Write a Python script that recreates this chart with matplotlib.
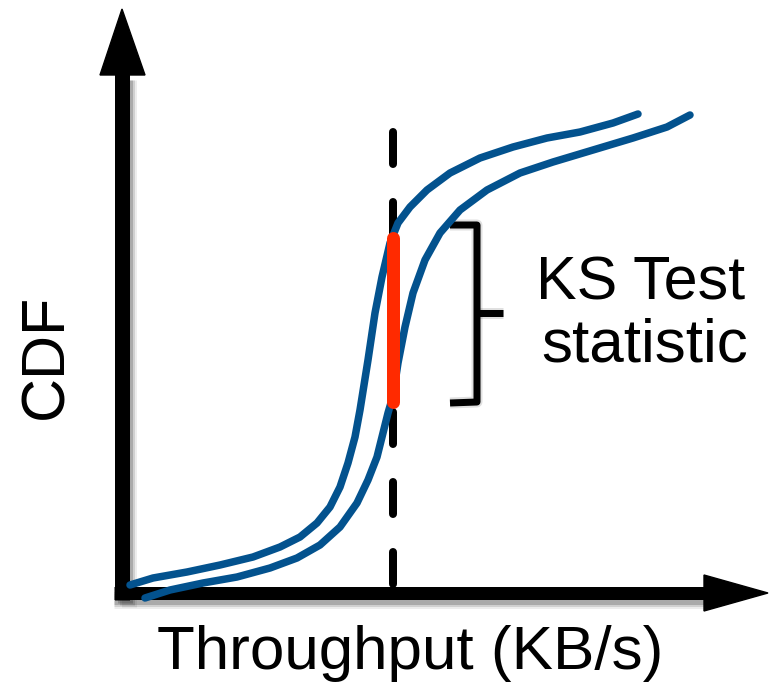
import matplotlib
matplotlib.use("Agg")
import matplotlib.pyplot as plt
from matplotlib.patches import Polygon

# ---- data (pixel-space schematic, y grows downward) ----
curve_a_x = [130, 153, 187, 220, 253, 280, 300, 317, 330, 340, 348, 355, 360, 364,
             368, 375, 382, 390, 398, 410, 427, 450, 480, 513, 547, 580, 613, 638]
curve_a_y = [585, 578, 572, 565, 557, 547, 537, 523, 507, 487, 463, 437, 410, 385,
             360, 313, 277, 243, 223, 207, 190, 173, 158, 147, 138, 132, 123, 114]

curve_b_x = [145, 170, 203, 237, 270, 297, 320, 340, 357, 368, 377, 383, 388, 393,
             398, 405, 413, 425, 440, 460, 487, 520, 553, 593, 633, 667, 690]
curve_b_y = [598, 590, 583, 577, 568, 558, 545, 527, 503, 480, 457, 433, 413, 396,
             363, 327, 293, 260, 233, 210, 190, 173, 162, 150, 138, 127, 115]

ks_x = 393
ks_top, ks_bottom = 232, 408
dash_top, dash_bottom = 132, 588

x_label = "Throughput (KB/s)"
y_label = "CDF"
annot_lines = ["KS Test", "statistic"]

# ---- figure ----
W, H = 769, 683
fig = plt.figure(figsize=(W / 100, H / 100), dpi=100)
ax = fig.add_axes([0, 0, 1, 1])
ax.set_xlim(0, W)
ax.set_ylim(H, 0)
ax.axis("off")
PX = 72 / 100  # pixels -> points

blue = "#03528e"
red = "#ff2a00"

# soft shadows of the axes
for off, a in [(3, 0.18), (5, 0.12), (7, 0.07)]:
    ax.plot([122 + off, 122 + off], [80, 600 + off], color="black", lw=15 * PX,
            alpha=a, solid_capstyle="butt", zorder=1)
    ax.plot([114, 704], [593 + off + 2, 593 + off + 2], color="black", lw=13 * PX,
            alpha=a, solid_capstyle="butt", zorder=1)

# axes (arrows)
ax.plot([122, 122], [74, 600], color="black", lw=15 * PX, solid_capstyle="butt", zorder=2)
ax.plot([114, 706], [593, 593], color="black", lw=13 * PX, solid_capstyle="butt", zorder=2)
ax.add_patch(Polygon([[100, 75], [145, 75], [122, 9]], closed=True, color="black", zorder=2))
ax.add_patch(Polygon([[704, 575], [704, 611], [768, 593]], closed=True, color="black", zorder=2))

# dashed vertical line
ax.plot([ks_x, ks_x], [dash_top, dash_bottom], color="black", lw=8 * PX,
        linestyle=(0, (4.0, 4.75)), dash_capstyle="round", zorder=3)

# CDF curves
ax.plot(curve_a_x, curve_a_y, color=blue, lw=7.5 * PX, solid_capstyle="round",
        solid_joinstyle="round", zorder=4)
ax.plot(curve_b_x, curve_b_y, color=blue, lw=7.5 * PX, solid_capstyle="round",
        solid_joinstyle="round", zorder=4)

# KS statistic segment
ax.plot([ks_x, ks_x], [ks_top + 6, ks_bottom - 6], color=red, lw=13 * PX,
        solid_capstyle="round", zorder=5)

# bracket (with a soft halo)
bx = [450, 477, 477, 450]
by = [225, 225, 402, 403]
ax.plot(bx, by, color="black", lw=11 * PX, alpha=0.12, solid_joinstyle="round",
        solid_capstyle="butt", zorder=3)
ax.plot([477, 503], [313, 313], color="black", lw=11 * PX, alpha=0.12,
        solid_capstyle="butt", zorder=3)
ax.plot(bx, by, color="black", lw=7 * PX, solid_joinstyle="round",
        solid_capstyle="butt", zorder=3)
ax.plot([477, 503], [313, 313], color="black", lw=7 * PX, solid_capstyle="butt", zorder=3)

# texts
font = "Liberation Sans"
ax.text(641, 300, annot_lines[0], fontsize=61 * PX, family=font, ha="center", va="baseline")
ax.text(645, 362, annot_lines[1], fontsize=62 * PX, family=font, ha="center", va="baseline")
ax.text(410, 669, x_label, fontsize=62 * PX, family=font, ha="center", va="baseline")
ax.text(62, 356, y_label, fontsize=61 * PX, family=font, ha="center", va="baseline",
        rotation=90, rotation_mode="anchor")

fig.savefig("out.png", dpi=100)
